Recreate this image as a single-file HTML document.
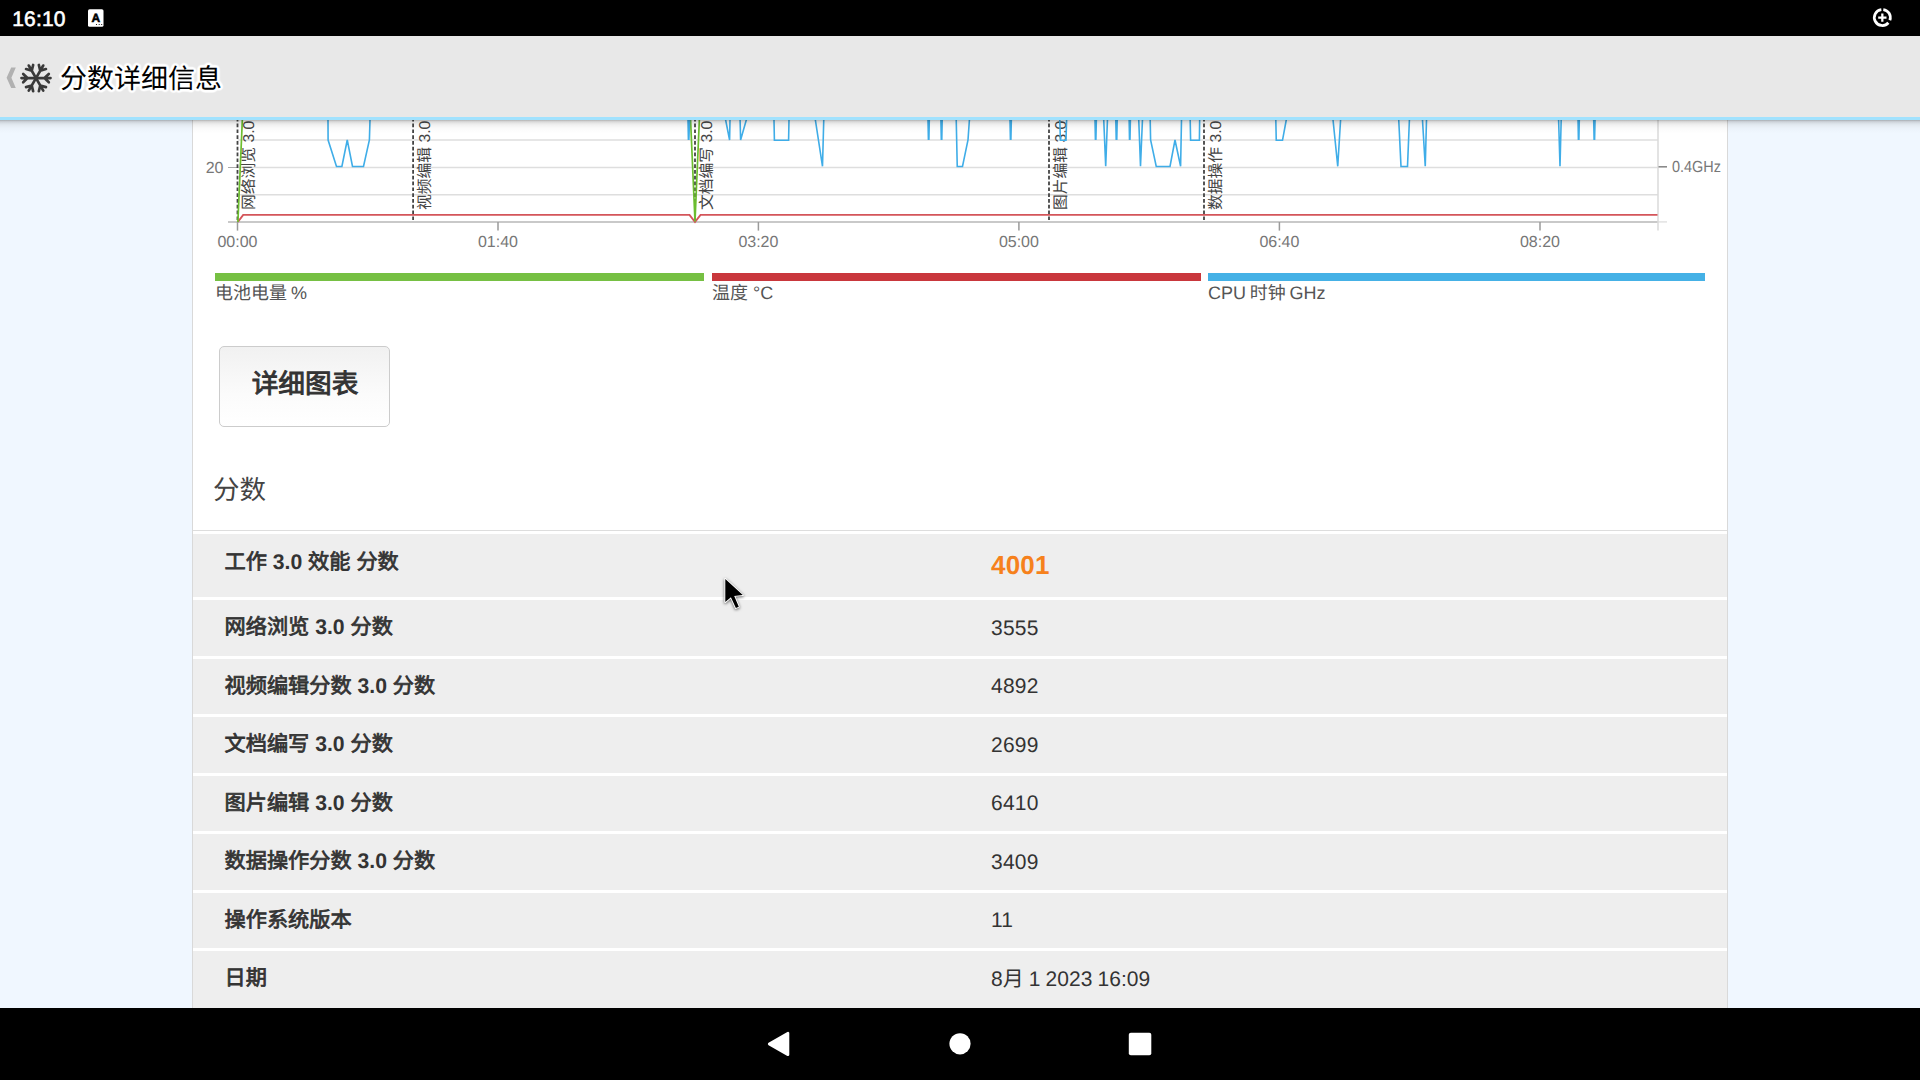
<!DOCTYPE html>
<html lang="zh-CN">
<head>
<meta charset="utf-8">
<title>分数详细信息</title>
<style>
html,body{margin:0;padding:0;}
body{width:1920px;height:1080px;overflow:hidden;position:relative;background:#f0f7ff;
  font-family:"Liberation Sans","Noto Sans CJK SC",sans-serif;color:#333;text-rendering:geometricPrecision;}
svg text{text-rendering:geometricPrecision;}
#status{position:absolute;left:0;top:0;width:1920px;height:36px;background:#000;}
#clock{position:absolute;left:12.2px;top:8.1px;font-size:21px;line-height:24px;color:#fff;letter-spacing:0.2px;-webkit-text-stroke:0.6px #fff;}
#header{position:absolute;left:0;top:36px;width:1920px;height:81px;background:#e8e8e8;border-bottom:3px solid #a1e2fe;}
#title{position:absolute;left:60px;top:23px;font-size:27px;line-height:40px;color:#000;
  text-shadow:1.00px 0.00px 0.5px #fff,0.71px 0.71px 0.5px #fff,0.00px 1.00px 0.5px #fff,-0.71px 0.71px 0.5px #fff,-1.00px 0.00px 0.5px #fff,-0.71px -0.71px 0.5px #fff,-0.00px -1.00px 0.5px #fff,0.71px -0.71px 0.5px #fff,2.00px 0.00px 1.2px #fff,1.85px 0.77px 1.2px #fff,1.41px 1.41px 1.2px #fff,0.77px 1.85px 1.2px #fff,0.00px 2.00px 1.2px #fff,-0.77px 1.85px 1.2px #fff,-1.41px 1.41px 1.2px #fff,-1.85px 0.77px 1.2px #fff,-2.00px 0.00px 1.2px #fff,-1.85px -0.77px 1.2px #fff,-1.41px -1.41px 1.2px #fff,-0.77px -1.85px 1.2px #fff,-0.00px -2.00px 1.2px #fff,0.77px -1.85px 1.2px #fff,1.41px -1.41px 1.2px #fff,1.85px -0.77px 1.2px #fff,2.40px 0.00px 1.8px #fff,2.08px 1.20px 1.8px #fff,1.20px 2.08px 1.8px #fff,0.00px 2.40px 1.8px #fff,-1.20px 2.08px 1.8px #fff,-2.08px 1.20px 1.8px #fff,-2.40px 0.00px 1.8px #fff,-2.08px -1.20px 1.8px #fff,-1.20px -2.08px 1.8px #fff,-0.00px -2.40px 1.8px #fff,1.20px -2.08px 1.8px #fff,2.08px -1.20px 1.8px #fff,0 0 4px #fff;}
#hshadow{position:absolute;left:0;top:120px;width:1920px;height:14px;
  background:linear-gradient(to bottom,rgba(0,0,0,0.30) 0,rgba(0,0,0,0.17) 1.5px,rgba(0,0,0,0.10) 3px,rgba(0,0,0,0.055) 5px,rgba(0,0,0,0.025) 8px,rgba(0,0,0,0.008) 11px,rgba(0,0,0,0) 14px);}
#card{position:absolute;left:192px;top:120px;width:1534px;height:888px;background:#fff;
  border-left:1px solid #d9d9d9;border-right:1px solid #d9d9d9;}
#chart{position:absolute;left:0;top:0;}
.leg{position:absolute;top:273px;height:8px;}
.legt{position:absolute;top:281px;font-size:18px;line-height:24px;color:#555;white-space:nowrap;}
#btn{position:absolute;left:219px;top:346px;width:169px;height:79px;border:1px solid #ccc;border-radius:5px;
  background:linear-gradient(to bottom,#f1f1f1,#fbfbfb 60%,#fff);text-align:center;
  font-size:26.7px;font-weight:normal;-webkit-text-stroke:0.94px #333;line-height:74px;color:#333;text-indent:1px;}
#h2{position:absolute;left:213px;top:469.5px;font-size:26.5px;line-height:40px;color:#444;}
#hr{position:absolute;left:193px;top:530px;width:1534px;height:1px;background:#ddd;}
.row{position:absolute;left:193px;width:1534px;height:55px;background:#eee;}
.row .k{position:absolute;left:31.5px;top:0;font-size:21.2px;font-weight:normal;-webkit-text-stroke:0.78px #333;line-height:55px;color:#333;white-space:nowrap;}
.row .k b{font-weight:bold;-webkit-text-stroke:0;}
.row .v{position:absolute;left:798px;top:0;font-size:21px;line-height:58.5px;letter-spacing:0.2px;color:#333;white-space:nowrap;}
.row.s .k{line-height:56px;}
.row.s .v{line-height:55.5px;}
#nav{position:absolute;left:0;top:1008px;width:1920px;height:72px;background:#000;}
svg{display:block;}
</style>
</head>
<body>
<div id="card"></div>

<svg id="chart" width="1920" height="1080" viewBox="0 0 1920 1080">
<g fill="none">
<line x1="237.5" y1="140" x2="1658" y2="140" stroke="#dedede" stroke-width="1.5"/>
<line x1="237.5" y1="167.5" x2="1658" y2="167.5" stroke="#dedede" stroke-width="1.5"/>
<line x1="237.5" y1="194.75" x2="1658" y2="194.75" stroke="#dedede" stroke-width="1.5"/>
<line x1="228" y1="221.9" x2="1658" y2="221.9" stroke="#c9c9c9" stroke-width="2"/>
<line x1="1658" y1="221.9" x2="1667" y2="221.9" stroke="#e2e2e2" stroke-width="1.5"/>
<line x1="1658" y1="100" x2="1658" y2="230.6" stroke="#dadada" stroke-width="1.5"/>
<line x1="228" y1="167.5" x2="237.5" y2="167.5" stroke="#aaa" stroke-width="1"/>
<line x1="1658.5" y1="166.8" x2="1667" y2="166.8" stroke="#8a8a8a" stroke-width="1.6"/>
<line x1="237.5" y1="222" x2="237.5" y2="230.6" stroke="#9a9a9a" stroke-width="1.5"/>
<line x1="498" y1="222" x2="498" y2="230.6" stroke="#9a9a9a" stroke-width="1.5"/>
<line x1="758.4" y1="222" x2="758.4" y2="230.6" stroke="#9a9a9a" stroke-width="1.5"/>
<line x1="1018.9" y1="222" x2="1018.9" y2="230.6" stroke="#9a9a9a" stroke-width="1.5"/>
<line x1="1279.4" y1="222" x2="1279.4" y2="230.6" stroke="#9a9a9a" stroke-width="1.5"/>
<line x1="1540" y1="222" x2="1540" y2="230.6" stroke="#9a9a9a" stroke-width="1.5"/>
<line x1="237.5" y1="100.4" x2="237.5" y2="221" stroke="#444" stroke-width="1.8" stroke-dasharray="3.7,2.1"/>
<line x1="413.1" y1="100.4" x2="413.1" y2="221" stroke="#444" stroke-width="1.8" stroke-dasharray="3.7,2.1"/>
<line x1="695" y1="100.4" x2="695" y2="221" stroke="#444" stroke-width="1.8" stroke-dasharray="3.7,2.1"/>
<line x1="1049" y1="100.4" x2="1049" y2="221" stroke="#444" stroke-width="1.8" stroke-dasharray="3.7,2.1"/>
<line x1="1204" y1="100.4" x2="1204" y2="221" stroke="#444" stroke-width="1.8" stroke-dasharray="3.7,2.1"/>
</g>
<g font-size="15.75" fill="#444">
<text transform="translate(254.3,210) rotate(-90)">网络浏览 3.0</text>
<text transform="translate(429.90000000000003,210) rotate(-90)">视频编辑 3.0</text>
<text transform="translate(711.8,210) rotate(-90)">文档编写 3.0</text>
<text transform="translate(1065.8,210) rotate(-90)">图片编辑 3.0</text>
<text transform="translate(1220.8,210) rotate(-90)">数据操作 3.0</text>
</g>
<g fill="none">
<polyline points="237.8,222 243.2,214.9 689.5,214.9 695,222 700.5,214.9 1657.5,214.9" stroke="#d4555a" stroke-width="1.9"/>
<polyline points="237.9,222 243.2,100 689.7,100 695,221.5 700.2,100" stroke="#6cbd2f" stroke-width="1.7"/>
<polyline points="327.9,100 328.1,140 336.5,166.5 341.9,166.5 347.25,140 352.5,166.5 363.5,166.5 369.4,140 370.6,100 687.6,100 688.4,139.3 688.9,139.3 690.2,100 721.7,100 729.6,140 730.4,100 739.6,100 740.6,140 752,100 773.6,100 774.4,140.3 788.6,140.3 789.4,100 812.3,100 822.5,166.3 824.3,100 927.6,100 928.4,139.3 928.9,139.3 929.7,100 940.5,100 941.3,139.3 941.8,139.3 942.6,100 955.8,100 957.25,166.5 962.5,166.5 968,140 969.4,120 970.8,100 1009.6,100 1010.4,139.3 1010.9,139.3 1011.8,100 1059.2,100 1060.4,140.3 1066,140.3 1067.2,100 1094.6,100 1095.4,139.3 1095.9,139.3 1096.8,100 1102.9,100 1105.7,166.3 1108.2,100 1115.4,100 1116.2,139.3 1116.8,139.3 1117.6,100 1128.8,100 1129.5,139.3 1130,139.3 1130.8,100 1138,100 1140.5,166.3 1143.3,100 1149.8,100 1150.6,140 1156.25,166.5 1170,166.5 1175,140 1180.6,166.3 1181.5,120 1181.9,100 1189.8,100 1190.6,140.3 1199.4,140.3 1199.9,100 1275.4,100 1276.25,140.3 1282.5,140.3 1286.25,120 1290,100 1331,100 1337.75,166.3 1341.8,100 1398,100 1398.75,120 1401,166.5 1407.5,166.5 1409.4,120 1410.2,100 1421.3,100 1425.25,166.3 1426.5,120 1427,100 1558,100 1560,166.3 1561.7,100 1577.7,100 1578.4,139.3 1578.9,139.3 1579.7,100 1593.3,100 1594.1,139.3 1594.6,139.3 1595.5,100" stroke="#3fade8" stroke-width="1.6" stroke-linejoin="miter"/>
</g>
<g font-size="16" fill="#777" text-anchor="middle">
<text x="237.5" y="247">00:00</text>
<text x="498" y="247">01:40</text>
<text x="758.4" y="247">03:20</text>
<text x="1018.9" y="247">05:00</text>
<text x="1279.4" y="247">06:40</text>
<text x="1540" y="247">08:20</text>
</g>
<text x="223.5" y="173.2" font-size="16" fill="#777" text-anchor="end">20</text>
<text x="1672" y="172.4" font-size="16" fill="#777" textLength="49" lengthAdjust="spacingAndGlyphs">0.4GHz</text>
</svg>

<div class="leg" style="left:215px;width:489px;background:#76c043;"></div>
<div class="leg" style="left:712px;width:489px;background:#c9373c;"></div>
<div class="leg" style="left:1208px;width:497px;background:#45b1e6;"></div>
<div class="legt" style="left:215px;word-spacing:-1px;">电池电量 %</div>
<div class="legt" style="left:712px;">温度 °C</div>
<div class="legt" style="left:1208px;word-spacing:-1.2px;">CPU 时钟 GHz</div>

<div id="btn">详细图表</div>
<div id="h2">分数</div>
<div id="hr"></div>

<div class="row" style="top:534px;height:63px;"><span class="k" style="line-height:58px;">工作 <b>3.0</b> 效能 分数</span><span class="v" style="font-size:26px;font-weight:bold;color:#f6811c;line-height:63px;">4001</span></div>
<div class="row" style="top:600px;height:56px;"><span class="k">网络浏览 <b>3.0</b> 分数</span><span class="v">3555</span></div>
<div class="row s" style="top:659px;height:55px;"><span class="k">视频编辑分数 <b>3.0</b> 分数</span><span class="v">4892</span></div>
<div class="row" style="top:717px;height:56px;"><span class="k">文档编写 <b>3.0</b> 分数</span><span class="v">2699</span></div>
<div class="row s" style="top:776px;height:55px;"><span class="k">图片编辑 <b>3.0</b> 分数</span><span class="v">6410</span></div>
<div class="row" style="top:834px;height:56px;"><span class="k">数据操作分数 <b>3.0</b> 分数</span><span class="v">3409</span></div>
<div class="row s" style="top:893px;height:55px;"><span class="k">操作系统版本</span><span class="v">11</span></div>
<div class="row" style="top:951px;height:57px;"><span class="k">日期</span><span class="v" style="letter-spacing:0.06px;word-spacing:-0.9px;">8月 1 2023 16:09</span></div>

<div id="hshadow"></div>

<div id="status"><div id="clock">16:10</div><svg width="36" height="36" viewBox="0 0 36 36" style="position:absolute;left:78px;top:0;">
<rect x="10" y="9.2" width="15.5" height="17.6" rx="1.6" fill="#fff"/>
<text x="17.9" y="22" font-size="12" font-weight="bold" fill="#000" stroke="#000" stroke-width="0.55" text-anchor="middle">A</text>
<circle cx="18.5" cy="24.5" r="0.6" fill="#000"/><circle cx="21.2" cy="24.5" r="0.6" fill="#000"/><circle cx="23.7" cy="24.5" r="0.6" fill="#000"/>
</svg>
<svg width="36" height="36" viewBox="0 0 36 36" style="position:absolute;left:1864px;top:0;">
<path d="M19.30,9.56 A8,8 0 0 1 25.85,20.24 M24.37,22.75 A8,8 0 1 1 17.36,9.56" fill="none" stroke="#fff" stroke-width="2.75"/>
<path d="M14.2,17.5 H22.5 M18.33,13.4 V21.7" stroke="#fff" stroke-width="2.25" fill="none"/>
</svg></div>
<div id="header"><svg id="hicons" width="70" height="81" viewBox="0 0 70 81" style="position:absolute;left:0;top:0;">
<polygon points="11.2,31.5 15.8,31.5 11.4,41.75 15.8,52 11.2,52 6.6,41.75" fill="#b1b1b1"/>
<g transform="translate(36,42.1)" stroke="#3a3a3a" stroke-width="2.7" stroke-linecap="round" fill="none"><g transform="rotate(0)"><path d="M0,0 L14.5,0 M8.5,0 L12.8,-4.1 M8.5,0 L12.8,4.1"/></g><g transform="rotate(60)"><path d="M0,0 L14.5,0 M8.5,0 L12.8,-4.1 M8.5,0 L12.8,4.1"/></g><g transform="rotate(120)"><path d="M0,0 L14.5,0 M8.5,0 L12.8,-4.1 M8.5,0 L12.8,4.1"/></g><g transform="rotate(180)"><path d="M0,0 L14.5,0 M8.5,0 L12.8,-4.1 M8.5,0 L12.8,4.1"/></g><g transform="rotate(240)"><path d="M0,0 L14.5,0 M8.5,0 L12.8,-4.1 M8.5,0 L12.8,4.1"/></g><g transform="rotate(300)"><path d="M0,0 L14.5,0 M8.5,0 L12.8,-4.1 M8.5,0 L12.8,4.1"/></g></g>
</svg><div id="title">分数详细信息</div></div>
<div id="nav"><svg width="1920" height="72" viewBox="0 0 1920 72" style="position:absolute;left:0;top:0;">
<path d="M769.2,36 L788,25.2 V46.8 Z" fill="#fff" stroke="#fff" stroke-width="2.6" stroke-linejoin="round"/>
<circle cx="960" cy="35.8" r="10.6" fill="#fff"/>
<rect x="1128.8" y="24.8" width="22.5" height="22.4" rx="2" fill="#fff"/>
</svg></div>

<svg width="40" height="46" viewBox="0 0 40 46" style="position:absolute;left:715px;top:569px;filter:drop-shadow(0px 1px 1.4px rgba(0,0,0,0.6));">
<path d="M10.3,10.0 V33 L15.9,28.2 L20.9,39 L23.8,37.7 L19.2,26.9 L27.8,26.1 Z" fill="#000" stroke="#fff" stroke-width="1.9" stroke-linejoin="round" paint-order="stroke"/>
</svg>
</body>
</html>
